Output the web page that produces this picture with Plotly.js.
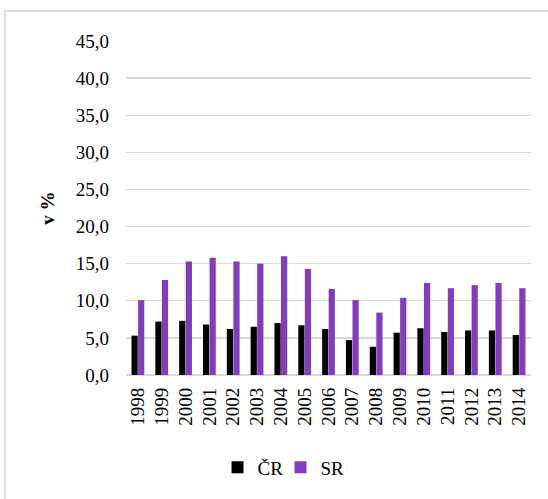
<!DOCTYPE html>
<html>
<head>
<meta charset="utf-8">
<script src="https://cdn.plot.ly/plotly-3.0.1.min.js"></script>
<style>
html,body{margin:0;padding:0;background:#fff;overflow:hidden;}
#frame{position:absolute;left:4px;top:10px;width:700px;height:700px;border-left:2px solid #dedede;border-top:2px solid #dedede;}
#chart{position:absolute;left:0;top:0;width:548px;height:499px;}
</style>
</head>
<body>
<div id="frame"></div>
<div id="chart"></div>
<script>
const years = ['1998','1999','2000','2001','2002','2003','2004','2005','2006','2007','2008','2009','2010','2011','2012','2013','2014'];
const cr = [5.3, 7.2, 7.3, 6.8, 6.2, 6.5, 7.0, 6.7, 6.2, 4.7, 3.8, 5.7, 6.3, 5.8, 6.0, 6.0, 5.4];
const sr = [10.1, 12.8, 15.3, 15.8, 15.3, 15.0, 16.0, 14.3, 11.6, 10.1, 8.4, 10.4, 12.4, 11.7, 12.1, 12.4, 11.7];
const yTicks = [0,5,10,15,20,25,30,35,40,45];

const serif = "'Liberation Serif', 'Times New Roman', 'DejaVu Serif', serif";
const traces = [
  {type:'bar', name:'ČR', x:years, y:cr, marker:{color:'#000000'}},
  {type:'bar', name:'SR', x:years, y:sr, marker:{color:'#843CBF'}}
];
const layout = {
  width:548, height:499,
  margin:{l:126, r:17, t:41, b:120},
  paper_bgcolor:'rgba(0,0,0,0)', plot_bgcolor:'rgba(0,0,0,0)',
  separators:', ',
  barmode:'group', bargap:0.45, bargroupgap:0.05,
  font:{family:serif, size:19, color:'#000'},
  xaxis:{type:'category', tickmode:'array', tickvals:years, ticktext:years, tickangle:-90, showgrid:false, showline:false, zeroline:false, ticks:'', ticklabelstandoff:8, tickfont:{family:serif, size:19}},
  yaxis:{range:[0,45], tickvals:yTicks, tickformat:'.1f', showgrid:true, gridcolor:'#d9d9d9', gridwidth:1.3, zeroline:true, zerolinecolor:'#d9d9d9', zerolinewidth:1.5, showline:false, ticks:'', ticklabelstandoff:16, tickfont:{family:serif, size:19},
    title:{text:'<b>v %</b>', font:{family:serif, size:19}, standoff:16}},
  legend:{orientation:'h', x:0.226, xanchor:'left', y:-0.277, yanchor:'middle', font:{family:serif, size:19}, itemwidth:30, entrywidth:18, entrywidthmode:'pixels', traceorder:'normal'},
  showlegend:true
};
Plotly.newPlot('chart', traces, layout, {displayModeBar:false, staticPlot:true});
</script>
</body>
</html>
